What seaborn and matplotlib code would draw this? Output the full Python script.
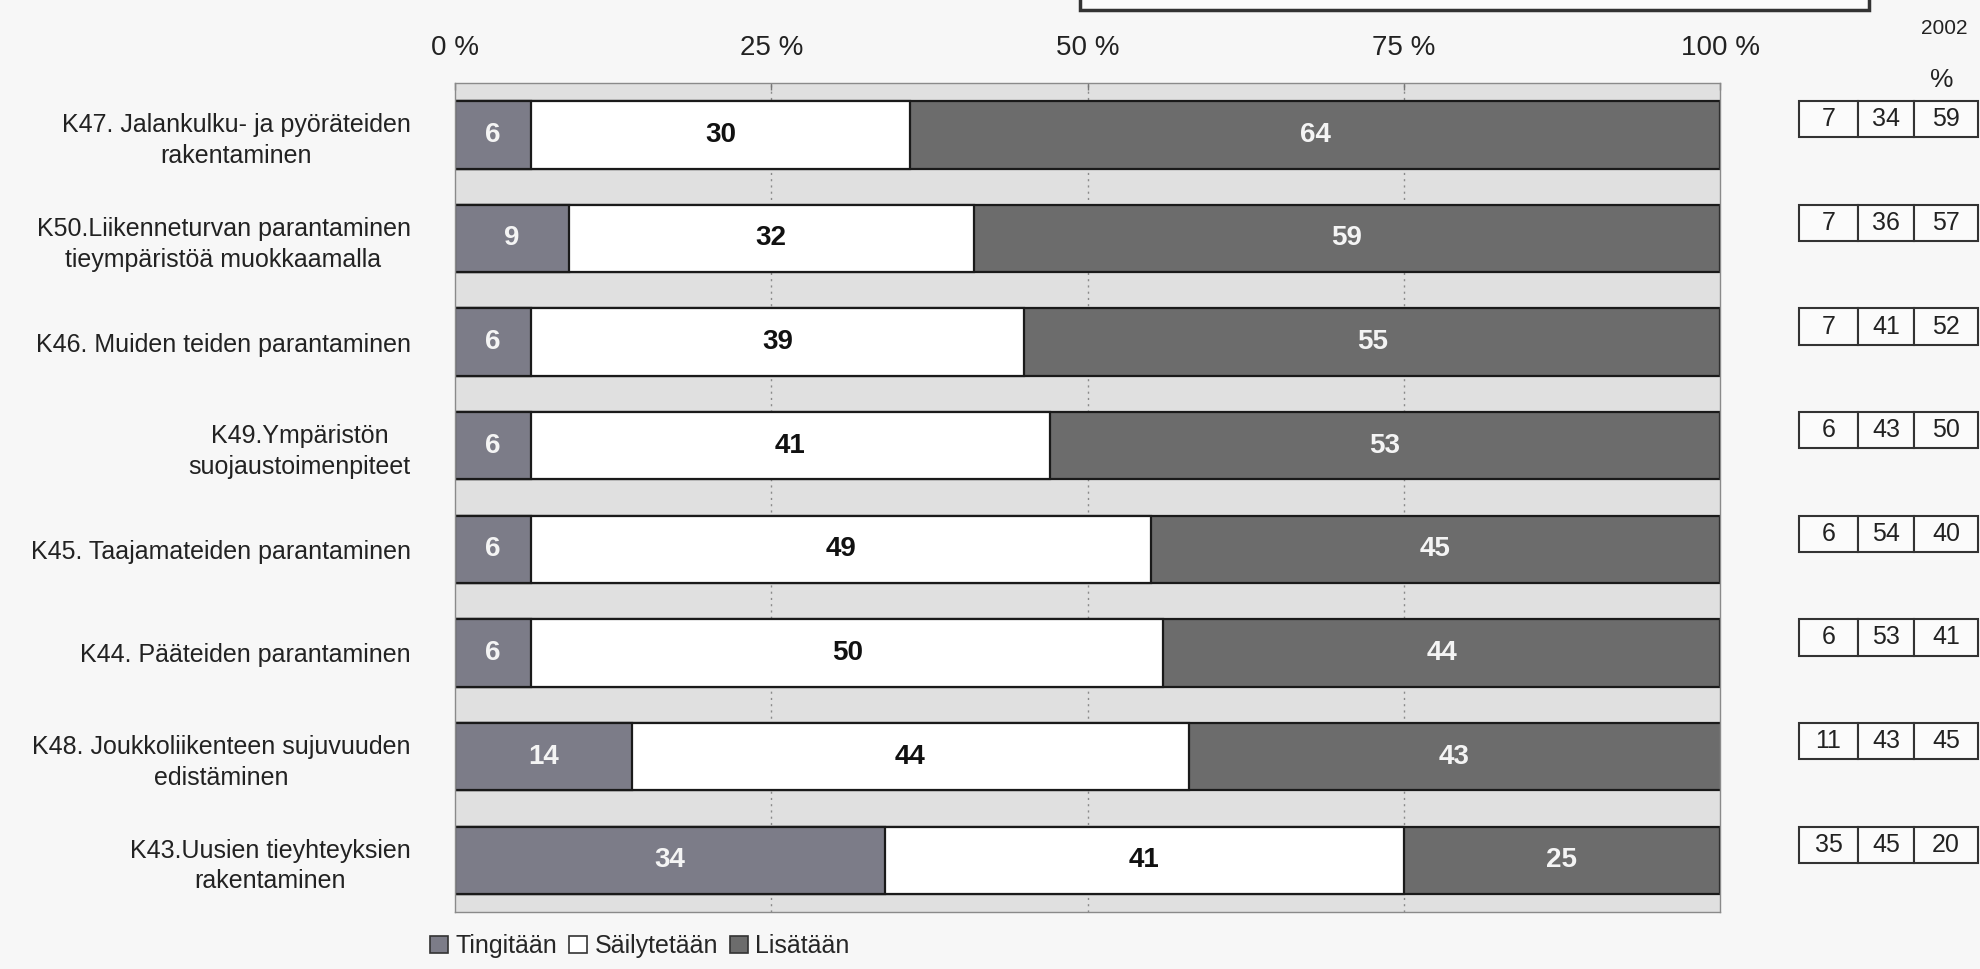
#!/usr/bin/env python3
"""Stacked horizontal bars: tingitään / säilytetään / lisätään"""

import numpy as np
import pandas as pd
import matplotlib
matplotlib.use('Agg')
import matplotlib.pyplot as plt
import matplotlib.transforms as mtransforms
from matplotlib.patches import Patch, Rectangle
import seaborn as sns

# data, top to bottom
categories = [
    "K47. Jalankulku- ja pyöräteiden\nrakentaminen",
    "K50.Liikenneturvan parantaminen\ntieympäristöä muokkaamalla",
    "K46. Muiden teiden parantaminen",
    "K49.Ympäristön\nsuojaustoimenpiteet",
    "K45. Taajamateiden parantaminen",
    "K44. Pääteiden parantaminen",
    "K48. Joukkoliikenteen sujuvuuden\nedistäminen",
    "K43.Uusien tieyhteyksien\nrakentaminen",
]
tingitaan = [6, 9, 6, 6, 6, 6, 14, 34]
sailytetaan = [30, 32, 39, 41, 49, 50, 44, 41]
lisataan = [64, 59, 55, 53, 45, 44, 43, 25]

# comparison figures from 2002 (tingitään, säilytetään, lisätään)
t2002 = [7, 7, 7, 6, 6, 6, 11, 35]
s2002 = [34, 36, 41, 43, 54, 53, 43, 45]
l2002 = [59, 57, 52, 50, 40, 41, 45, 20]

series = ["Tingitään", "Säilytetään", "Lisätään"]
colors = ["#7c7c88", "#ffffff", "#6c6c6c"]
xticks = [0, 25, 50, 75, 100]

sns.set_style("white")
plt.rcParams['font.family'] = ['Liberation Sans', 'DejaVu Sans']

df = pd.DataFrame({
    'kysymys': categories,
    'T': tingitaan,
    'S': sailytetaan,
    'L': lisataan,
})
df['cum1'] = df['T']
df['cum2'] = df['T'] + df['S']
df['cum3'] = df['T'] + df['S'] + df['L']

fig = plt.figure(figsize=(19.8, 9.69), dpi=100, facecolor="#f7f7f7")
ax = fig.add_axes([0.2298, 0.0588, 0.6389, 0.8555])
ax.set_facecolor("#e0e0e0")

# dotted gridlines behind bars
for xv in [25, 50, 75]:
    ax.axvline(xv, color="#8a8a8a", linestyle=(0, (1.5, 3)), linewidth=1, zorder=0)

# stacked bars via overlapping cumulative totals
for col, c in zip(['cum3', 'cum2', 'cum1'], [colors[2], colors[1], colors[0]]):
    sns.barplot(data=df, x=col, y='kysymys', orient='h', color=c, saturation=1,
                width=0.65, edgecolor="#1a1a1a", linewidth=1.6, ax=ax, zorder=2)

# value labels
for i in range(len(categories)):
    starts = [0, tingitaan[i], tingitaan[i] + sailytetaan[i]]
    vals = [tingitaan[i], sailytetaan[i], lisataan[i]]
    for k in range(3):
        end = min(starts[k] + vals[k], 100)
        xc = (starts[k] + end) / 2
        tc = "#111111" if k == 1 else "#f4f4f4"
        ax.text(xc, i, str(vals[k]), ha='center', va='center', fontsize=20,
                fontweight='bold', color=tc, zorder=5)

ax.set_xlim(0, 100)
ax.set_ylim(len(categories) - 0.5, -0.5)
ax.set_xlabel("")
ax.set_ylabel("")

ax.xaxis.tick_top()
ax.set_xticks(xticks)
ax.set_xticklabels([f"{v} %" for v in xticks], fontsize=20, color="#222222")
ax.tick_params(axis='x', which='major', length=5, width=1, color="#777777", pad=16, direction='in')

ax.set_yticks(range(len(categories)))
ax.set_yticklabels(categories, fontsize=18, multialignment='center', color="#222222",
                   linespacing=1.35)
ax.tick_params(axis='y', which='major', length=0, pad=32)
ax.set_yticks(np.arange(-0.5, len(categories), 1), minor=True)
ax.tick_params(axis='y', which='minor', length=5, width=1, color="#777777")

for s in ['left', 'bottom', 'top', 'right']:
    ax.spines[s].set_color("#8a8a8a")
    ax.spines[s].set_linewidth(1)

# 2002 comparison table on the right
trans = mtransforms.blended_transform_factory(fig.transFigure, ax.transData)
col_edges = [1799 / 1980, 1858 / 1980, 1914 / 1980, 1978 / 1980]
cell_h = 0.35
for i in range(len(categories)):
    yc = i - 0.15
    vals = [t2002[i], s2002[i], l2002[i]]
    for k in range(3):
        r = Rectangle((col_edges[k], yc - cell_h / 2), col_edges[k + 1] - col_edges[k], cell_h,
                      transform=trans, facecolor="#fbfbfb", edgecolor="#333333",
                      linewidth=1.5, clip_on=False)
        fig.add_artist(r)
        fig.text((col_edges[k] + col_edges[k + 1]) / 2, yc, str(vals[k]), transform=trans,
                 ha='center', va='center', fontsize=18, color="#222222")

fig.text(1944 / 1980, 1 - 28 / 969, "2002", ha='center', va='center', fontsize=15, color="#222222")
fig.text(1942 / 1980, 1 - 80 / 969, "%", ha='center', va='center', fontsize=19, color="#222222")

# cut-off title box at the top
fig.add_artist(Rectangle((1080 / 1980, 1 - 10 / 969), (1869 - 1080) / 1980, 0.05,
                         transform=fig.transFigure, facecolor="#fbfbfb",
                         edgecolor="#333333", linewidth=2.5, clip_on=False))

handles = [Patch(facecolor=c, edgecolor="#333333", linewidth=1.2) for c in colors]
fig.legend(handles, series, loc='center', bbox_to_anchor=(640 / 1980, 1 - 946 / 969),
           ncol=3, frameon=False, fontsize=18, handlelength=0.7, handleheight=0.7,
           handletextpad=0.3, columnspacing=0.5)

fig.savefig("out.png", dpi=100, facecolor=fig.get_facecolor())
plt.close(fig)
